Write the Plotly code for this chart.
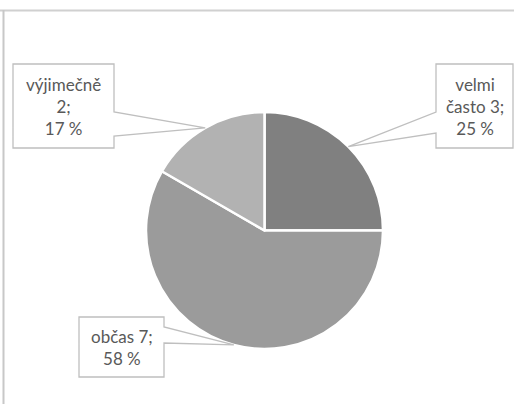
import math
import plotly.graph_objects as go

W, H = 515, 404

categories = ["velmi často", "občas", "výjimečně"]
values = [3, 7, 2]
colors = ["#808080", "#9b9b9b", "#b2b2b2"]
label_lines = [["velmi", "často 3;", "25 %"], ["občas 7;", "58 %"], ["výjimečně", "2;", "17 %"]]

# pie geometry in pixels
cx, cy, r = 264.5, 230.5, 118.5

# callout boxes (pixels): x0, y0, x1, y1, pointer side, pointer base y's
boxes = [
    (436, 64, 513, 148, "left", 112, 133),
    (79, 317, 164, 377, "right", 327, 343),
    (13, 64, 114, 148, "right", 112, 136),
]

def px(x):
    return x / W

def py(y):
    return 1 - y / H

fig = go.Figure()
fig.add_trace(go.Pie(
    labels=categories, values=values, sort=False, direction="clockwise", rotation=0,
    marker=dict(colors=colors, line=dict(color="white", width=2.5)),
    textinfo="none", hoverinfo="label+value+percent", showlegend=False,
    domain=dict(x=[px(cx - r), px(cx + r)], y=[py(cy + r), py(cy - r)]),
))

shapes = []
# frame lines
shapes.append(dict(type="line", xref="paper", yref="paper", x0=0, x1=px(514), y0=py(10.5), y1=py(10.5),
                   line=dict(color="#d0d0d0", width=2)))
shapes.append(dict(type="line", xref="paper", yref="paper", x0=px(3.5), x1=px(3.5), y0=py(10), y1=0,
                   line=dict(color="#c8c8c8", width=2)))

annotations = []
total = sum(values)
cum = 0
for i, v in enumerate(values):
    mid = (cum + v / 2) / total * 2 * math.pi
    cum += v
    tx = cx + r * math.sin(mid)
    ty = cy - r * math.cos(mid)
    x0, y0, x1, y1, side, b0, b1 = boxes[i]
    if side == "left":
        pts = [(x0, y0), (x1, y0), (x1, y1), (x0, y1), (x0, b1), (tx, ty), (x0, b0)]
    else:
        pts = [(x0, y0), (x1, y0), (x1, b0), (tx, ty), (x1, b1), (x1, y1), (x0, y1)]
    path = "M " + " L ".join(f"{px(a):.5f},{py(b):.5f}" for a, b in pts) + " Z"
    shapes.append(dict(type="path", xref="paper", yref="paper", path=path,
                       fillcolor="white", line=dict(color="#bfbfbf", width=1.3)))
    annotations.append(dict(xref="paper", yref="paper", x=px((x0 + x1) / 2), y=py((y0 + y1) / 2),
                            text="<br>".join(label_lines[i]), showarrow=False, align="center",
                            xanchor="center", yanchor="middle",
                            font=dict(family="Lato, Open Sans, sans-serif", size=17, color="#595959")))

fig.update_layout(width=W, height=H, margin=dict(l=0, r=0, t=0, b=0),
                  paper_bgcolor="white", plot_bgcolor="white",
                  shapes=shapes, annotations=annotations)
fig.write_html("out.html", config={"displayModeBar": False})

with open("out.html", "r", encoding="utf-8") as f:
    html = f.read()
html = html.replace("<body>", '<body style="margin:0;padding:0;">', 1)
with open("out.html", "w", encoding="utf-8") as f:
    f.write(html)
